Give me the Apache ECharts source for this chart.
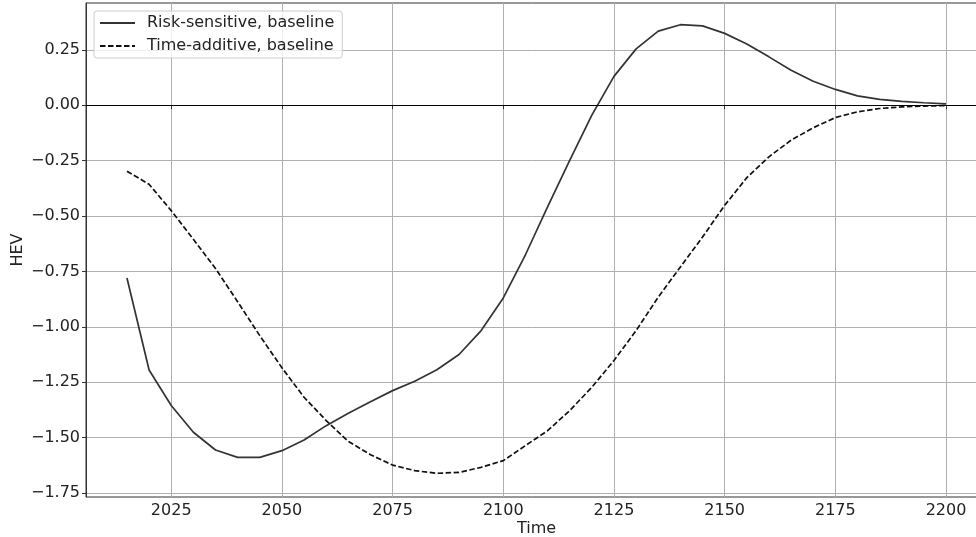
<!DOCTYPE html>
<html>
<head>
<meta charset="utf-8">
<title>HEV over time</title>
<script src="https://cdn.jsdelivr.net/npm/echarts@6/dist/echarts.min.js"></script>
<style>
  html, body { margin: 0; padding: 0; background: #fff; }
  #chart { width: 976px; height: 537px; }
</style>
</head>
<body>
<div id="chart"></div>
<script>
// Years sampled every 5 years, 2015 to 2200
const years = [2015, 2020, 2025, 2030, 2035, 2040, 2045, 2050, 2055, 2060,
               2065, 2070, 2075, 2080, 2085, 2090, 2095, 2100, 2105, 2110,
               2115, 2120, 2125, 2130, 2135, 2140, 2145, 2150, 2155, 2160,
               2165, 2170, 2175, 2180, 2185, 2190, 2195, 2200];

// HEV, risk-sensitive preferences, baseline scenario
const riskSensitive = [-0.78, -1.195, -1.355, -1.476, -1.556, -1.589, -1.589, -1.559, -1.511, -1.446,
                       -1.390, -1.338, -1.288, -1.246, -1.194, -1.125, -1.017, -0.870, -0.675, -0.459,
                       -0.249, -0.045, 0.130, 0.254, 0.334, 0.363, 0.358, 0.324, 0.276, 0.218,
                       0.158, 0.108, 0.071, 0.042, 0.026, 0.017, 0.011, 0.006];

// HEV, time-additive preferences, baseline scenario
const timeAdditive = [-0.298, -0.357, -0.476, -0.605, -0.737, -0.887, -1.040, -1.185, -1.318, -1.423,
                      -1.517, -1.577, -1.624, -1.649, -1.661, -1.657, -1.634, -1.604, -1.536, -1.469,
                      -1.378, -1.273, -1.152, -1.017, -0.866, -0.730, -0.595, -0.452, -0.327, -0.233,
                      -0.158, -0.102, -0.056, -0.030, -0.015, -0.008, -0.004, -0.002];

const xTicks = [2025, 2050, 2075, 2100, 2125, 2150, 2175, 2200];
const yTicks = [-1.75, -1.5, -1.25, -1.0, -0.75, -0.5, -0.25, 0.0, 0.25];

const seriesNames = ['Risk-sensitive, baseline', 'Time-additive, baseline'];

const FONT = 'DejaVu Sans';
const pairs = (ys) => years.map((y, i) => [y, ys[i]]);
const fmtY = (v) => v.toFixed(2).replace('-', '\u2212');

const chart = echarts.init(document.getElementById('chart'), null, { renderer: 'canvas' });

chart.setOption({
  animation: false,
  backgroundColor: '#ffffff',
  textStyle: { fontFamily: FONT },
  grid: {
    left: 86, top: 3, width: 901, height: 494,
    show: true, borderColor: '#333', borderWidth: 1, backgroundColor: 'transparent',
    containLabel: false,
    outerBoundsMode: 'none'
  },
  legend: {
    orient: 'vertical',
    left: 94, top: 11,
    padding: [4, 8, 4, 5],
    itemWidth: 35, itemHeight: 16, itemGap: 7,
    backgroundColor: 'rgba(255,255,255,0.8)',
    borderColor: '#cccccc', borderWidth: 1, borderRadius: 3,
    itemStyle: { opacity: 0 },
    textStyle: { fontFamily: FONT, fontSize: 16, color: '#222', lineHeight: 16, padding: [0, 0, 0, 7] },
    data: seriesNames
  },
  xAxis: {
    type: 'value',
    min: 2005.75, max: 2209.25,
    name: 'Time', nameLocation: 'middle', nameGap: 24, nameMoveOverlap: false,
    nameTextStyle: { fontFamily: FONT, fontSize: 16, color: '#222' },
    axisLine: { show: true, lineStyle: { color: '#333', width: 1 } },
    axisTick: { show: true, inside: false, length: 4, customValues: xTicks, lineStyle: { color: '#333' } },
    axisLabel: { customValues: xTicks, margin: 6, fontFamily: FONT, fontSize: 16, color: '#222',
                 formatter: (v) => String(v) },
    splitLine: { show: true, lineStyle: { color: '#b0b0b0', width: 1 } }
  },
  yAxis: {
    type: 'value',
    min: -1.768, max: 0.461,
    name: 'HEV', nameLocation: 'middle', nameGap: 60, nameRotate: 90, nameMoveOverlap: false,
    nameTextStyle: { fontFamily: FONT, fontSize: 16, color: '#222' },
    axisLine: { show: true, lineStyle: { color: '#333', width: 1 } },
    axisTick: { show: true, inside: false, length: 4, customValues: yTicks, lineStyle: { color: '#333' } },
    axisLabel: { customValues: yTicks, margin: 6, fontFamily: FONT, fontSize: 16, color: '#222',
                 formatter: fmtY },
    splitLine: { show: true, lineStyle: { color: '#b0b0b0', width: 1 } }
  },
  series: [
    {
      name: seriesNames[0],
      type: 'line',
      data: pairs(riskSensitive),
      symbol: 'none',
      lineStyle: { color: '#333333', width: 1.7, type: 'solid' },
      itemStyle: { color: '#333333' },
      z: 3,
      markLine: {
        silent: true,
        symbol: 'none',
        label: { show: false },
        lineStyle: { color: '#000', width: 1, type: 'solid' },
        data: [{ yAxis: 0 }]
      }
    },
    {
      name: seriesNames[1],
      type: 'line',
      data: pairs(timeAdditive),
      symbol: 'none',
      lineStyle: { color: '#111111', width: 1.7, type: [5.5, 2.5] },
      itemStyle: { color: '#111111' },
      z: 3
    }
  ]
});
</script>
</body>
</html>
